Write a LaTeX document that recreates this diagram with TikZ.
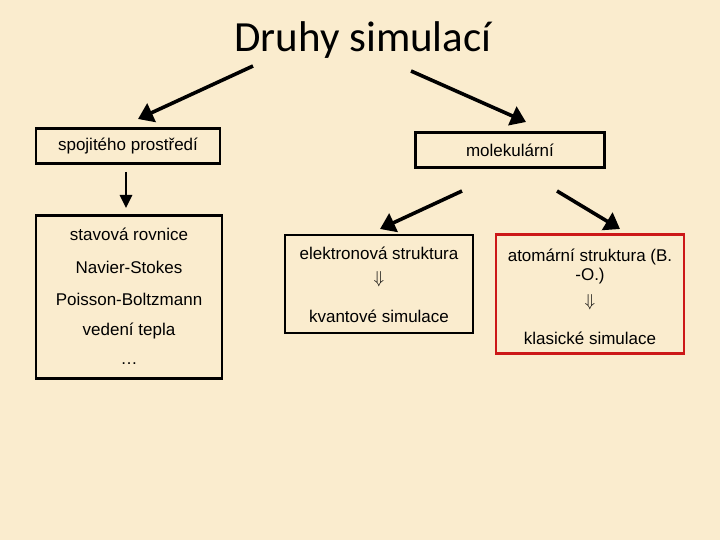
\documentclass[tikz,border=0pt]{standalone}
\usepackage{fontspec}
\setmainfont{Liberation Sans}
\newfontfamily\titlefont{Carlito}
\usetikzlibrary{arrows.meta}

\definecolor{parchment}{RGB}{250,236,206}
\definecolor{boxred}{RGB}{204,24,24}

\tikzset{
  kind/.style={
    draw,
    line width=2.6pt,
    font=\fontsize{17}{20}\selectfont,
    inner sep=0pt
  },
  entry/.style={
    font=\fontsize{17}{20}\selectfont
  },
  bigarrow/.style={
    line width=3.6pt,
    -{Triangle[length=15pt,width=20pt]}
  },
  downarrow/.style={
    line width=2.6pt,
    -{Triangle[length=13pt,width=12pt]}
  }
}

\begin{document}
\begin{tikzpicture}[x=1pt,y=-1pt]
  \fill[parchment] (0,0) rectangle (720,540);
  \useasboundingbox (0,0) rectangle (720,540);

  \node[font=\titlefont\fontsize{43}{50}\selectfont] (title) at (363,40) {Druhy simulací};

  \node[kind, minimum width=184pt, minimum height=35pt] (cont) at (128,146) {spojitého prostředí};
  \node[kind, minimum width=189pt, minimum height=35pt] (mol) at (510,150) {molekulární};

  \node[kind, minimum width=186pt, minimum height=163pt] (eqs) at (129,297) {};
  \node[entry] (eq1) at (129,234) {stavová rovnice};
  \node[entry] (eq2) at (129,267) {Navier-Stokes};
  \node[entry] (eq3) at (129,299) {Poisson-Boltzmann};
  \node[entry] (eq4) at (129,331) {vedení tepla};
  \node[entry] (eq5) at (129,364) {\dots};

  \node[kind, minimum width=188pt, minimum height=98pt] (elec) at (379,284) {};
  \node[entry] (elec1) at (379,253) {elektronová struktura};
  \node[entry] (elec2) at (379,279) {$\Downarrow$};
  \node[entry] (elec3) at (379,316) {kvantové simulace};

  \node[kind, draw=boxred, minimum width=188pt, minimum height=119pt] (atom) at (590,294) {};
  \node[entry] (atom1) at (590,257) {atomární struktura (B.};
  \node[entry] (atom2) at (590,276) {-O.)};
  \node[entry] (atom3) at (590,302) {$\Downarrow$};
  \node[entry] (atom4) at (590,338) {klasické simulace};

  \coordinate (t1) at (253,66);
  \coordinate (t2) at (411,71);
  \coordinate (m1) at (462,191);
  \coordinate (m2) at (557,191);
  \coordinate (c1) at (126,172);
  \coordinate (h1) at (138,119);
  \coordinate (h2) at (526,122);
  \coordinate (h3) at (380,229);
  \coordinate (h4) at (620,229);
  \coordinate (h5) at (126,208);

  \draw[bigarrow] (t1) -- (h1);
  \draw[bigarrow] (t2) -- (h2);
  \draw[bigarrow] (m1) -- (h3);
  \draw[bigarrow] (m2) -- (h4);
  \draw[downarrow] (c1) -- (h5);
\end{tikzpicture}
\end{document}
